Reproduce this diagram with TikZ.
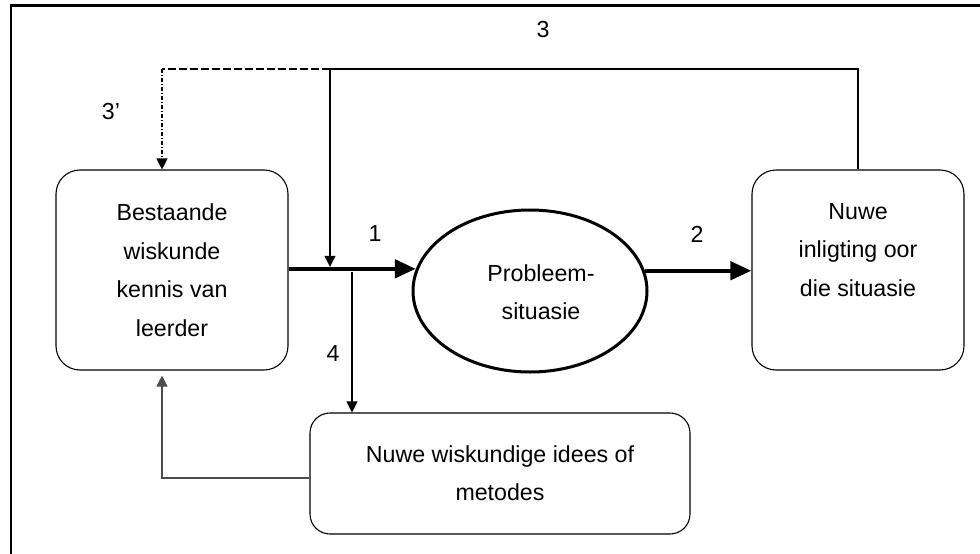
\documentclass[tikz,border=0pt]{standalone}
\usepackage{fontspec}
\setmainfont{Liberation Sans}
\usetikzlibrary{arrows.meta,shapes.geometric}
\begin{document}
\begin{tikzpicture}[x=1pt,y=-1pt,
  lbl/.style={font=\fontsize{23.2}{38.5}\selectfont, inner sep=0pt, align=center},
  roundbox/.style={draw, line width=1.1pt, rounded corners=24pt, inner sep=0pt},
  bigarrow/.style={line width=4.5pt, -{Triangle[length=21pt,width=18pt]}},
  thinarrow/.style={line width=1.1pt, -{Triangle[length=11pt,width=11pt]}},
  thinline/.style={line width=1.1pt},
]
\useasboundingbox (0,0) rectangle (980,554);
% page frame (top and left rules)
\draw[line width=3pt] (10,5) -- (980,5);
\draw[line width=2.5pt] (11,4) -- (11,554);

% boxes
\node[roundbox, minimum width=232pt, minimum height=200pt] (lb) at (172,270) {};
\node[lbl] (lbt) at (172,270) {Bestaande\\wiskunde\\kennis van\\leerder};

\node[draw, ellipse, line width=3pt, minimum width=234pt, minimum height=162pt, inner sep=0pt] (ell) at (530,291) {};
\node[lbl] (ellt) at (541,292) {Probleem-\\situasie};

\node[roundbox, minimum width=212pt, minimum height=200pt] (rb) at (858,270) {};
\node[lbl] (rbt) at (858,250) {Nuwe\\inligting oor\\die situasie};

\node[roundbox, rounded corners=20pt, minimum width=380pt, minimum height=121pt] (bb) at (500,473.5) {};
\node[lbl] (bbt) at (500,473) {Nuwe wiskundige idees of\\metodes};

% main flow
\draw[bigarrow] (lb.east |- ell.169.5) -- (ell.169.5);
\draw[bigarrow] (ell.10.5) -- (ell.10.5 -| rb.west);

% feedback 3 / 3'
\coordinate (j) at (330,69);
\coordinate (dl) at (162,69);
\draw[thinline] (rb.north) |- (j);
\draw[thinarrow, shorten >=2pt] (j) -- (j |- ell.169.5);
\draw[thinline, dash pattern=on 8pt off 3pt] (j) -- (dl);
\draw[thinarrow, dash pattern=on 4pt off 2pt on 1pt off 2pt] (dl) -- (dl |- lb.north);

% branch 4 and return to existing knowledge
\coordinate (s4) at (352,270);
\draw[thinarrow, shorten <=2pt] (s4) -- (s4 |- bb.north);
\coordinate (ret) at (162,478);
\draw[thinarrow, draw=black!70, shorten >=5pt] (bb.west |- ret) -- (ret) -- (ret |- lb.south);

% labels
\node[lbl] (l3) at (543,30) {3};
\node[lbl] (l3p) at (111,112) {3’};
\node[lbl] (l1) at (375,234) {1};
\node[lbl] (l2) at (697,234) {2};
\node[lbl] (l4) at (333,354) {4};
\end{tikzpicture}
\end{document}
